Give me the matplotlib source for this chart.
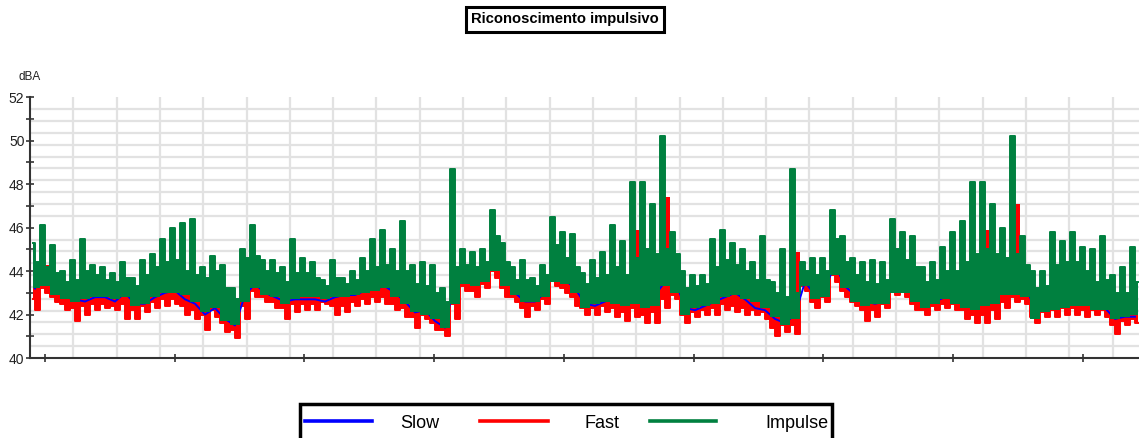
import numpy as np
import matplotlib
matplotlib.use("Agg")
import matplotlib.pyplot as plt
from matplotlib.lines import Line2D
from matplotlib.patches import Rectangle
from matplotlib.ticker import FixedLocator, FuncFormatter

plt.rcParams['font.family'] = ['Liberation Sans', 'DejaVu Sans']

# ---- data (dBA), read per time bin (min/max decimation of the dense trace) ----
# Impulse: spike maximum, secondary maximum, minimum of each bin
impulse_peak = [45.3, 46.1, 45.2, 44.0, 44.5, 45.5, 44.3, 44.2, 43.9, 44.4,
                43.7, 44.5, 44.8, 45.5, 46.0, 46.2, 46.4, 44.2, 44.7, 44.3,
                43.2, 45.0, 46.1, 44.5, 44.5, 44.2, 45.5, 44.6, 44.4, 43.6,
                44.5, 43.7, 44.0, 44.6, 45.5, 45.9, 45.0, 46.3, 44.3, 44.4,
                44.3, 43.2, 48.7, 45.0, 44.9, 45.0, 46.8, 45.3, 44.2, 44.5,
                43.7, 44.3, 46.5, 45.8, 45.7, 43.9, 44.5, 44.9, 46.1, 45.4,
                48.1, 48.1, 47.1, 50.2, 45.8, 44.0, 43.8, 43.8, 45.5, 45.9,
                45.3, 45.0, 44.4, 45.6, 43.5, 45.0, 48.7, 44.4, 44.6, 44.6,
                46.8, 45.6, 44.6, 44.4, 44.5, 44.4, 46.4, 45.8, 45.6, 44.2,
                44.4, 45.1, 45.8, 46.3, 48.1, 48.1, 47.1, 46.0, 50.2, 45.6,
                44.0, 44.0, 45.8, 45.4, 45.8, 45.1, 45.0, 45.6, 43.8, 44.2,
                45.1]
impulse_second = [44.4, 44.2, 43.9, 43.5, 43.6, 44.0, 43.8, 43.6, 43.5, 43.7,
                  43.3, 43.8, 44.2, 44.4, 44.5, 44.0, 43.8, 43.7, 44.0, 43.2,
                  42.7, 44.6, 44.7, 44.0, 43.9, 43.5, 43.9, 43.9, 43.7, 43.3,
                  43.7, 43.4, 43.6, 44.0, 44.2, 44.3, 44.0, 44.0, 43.4, 43.3,
                  43.0, 42.6, 44.2, 44.3, 44.2, 44.4, 45.6, 44.4, 43.6, 43.6,
                  43.3, 43.8, 45.2, 44.6, 44.2, 43.4, 43.7, 43.8, 44.2, 43.8,
                  44.6, 45.0, 44.8, 45.0, 44.8, 43.2, 43.3, 43.4, 44.2, 44.5,
                  44.3, 44.0, 43.6, 43.6, 43.0, 42.8, 43.0, 44.0, 43.8, 44.0,
                  45.5, 44.4, 43.8, 43.5, 43.4, 43.6, 45.0, 44.5, 44.2, 43.5,
                  43.6, 44.0, 44.0, 44.4, 44.8, 45.0, 44.8, 44.6, 44.8, 44.3,
                  43.2, 43.3, 44.3, 44.4, 44.4, 44.0, 43.5, 43.6, 43.0, 43.0,
                  43.5]
impulse_floor = [43.2, 43.3, 42.9, 42.7, 42.6, 42.7, 42.8, 42.8, 42.7, 42.8,
                 42.4, 42.5, 42.8, 43.0, 43.0, 42.9, 42.6, 42.1, 42.3, 41.7,
                 41.5, 42.6, 43.2, 42.9, 42.8, 42.5, 42.7, 42.8, 42.8, 42.7,
                 42.8, 42.8, 42.9, 43.0, 43.1, 43.2, 42.8, 42.5, 42.1, 42.0,
                 41.8, 41.4, 42.5, 43.4, 43.3, 43.5, 44.0, 43.3, 42.9, 42.6,
                 42.6, 42.8, 43.5, 43.4, 43.0, 42.3, 42.5, 42.6, 42.5, 42.4,
                 42.5, 42.3, 42.4, 43.3, 43.0, 42.0, 42.3, 42.4, 42.5, 42.8,
                 42.9, 42.7, 42.6, 42.3, 41.9, 41.5, 41.8, 43.3, 42.7, 42.8,
                 43.8, 43.2, 42.6, 42.4, 42.5, 42.5, 43.0, 43.0, 42.6, 42.3,
                 42.5, 42.7, 42.5, 42.3, 42.2, 42.4, 42.5, 42.9, 42.9, 42.8,
                 41.8, 42.1, 42.2, 42.3, 42.4, 42.4, 42.2, 42.2, 41.8, 41.9,
                 42.0]
# Fast: maximum, secondary minimum, minimum of each bin
fast_peak = [44.3, 44.3, 43.5, 43.0, 42.9, 43.0, 43.0, 43.0, 42.9, 43.3,
             42.8, 42.9, 43.2, 43.4, 44.0, 43.4, 43.4, 43.0, 43.3, 42.6,
             42.1, 44.2, 43.9, 43.5, 43.2, 43.1, 43.3, 43.2, 43.1, 43.0,
             43.3, 43.0, 43.1, 43.4, 43.6, 44.0, 43.8, 43.5, 42.8, 42.9,
             42.5, 42.2, 43.6, 43.8, 43.7, 44.0, 45.2, 44.2, 43.4, 43.0,
             43.0, 43.4, 45.0, 44.0, 43.8, 43.0, 43.0, 43.3, 44.2, 43.4,
             45.9, 44.5, 44.8, 47.4, 43.8, 43.0, 42.6, 42.9, 43.3, 43.4,
             43.6, 43.6, 42.9, 43.0, 42.4, 42.4, 44.9, 43.8, 43.3, 43.4,
             44.8, 44.0, 43.3, 43.1, 43.0, 43.1, 44.5, 43.8, 43.3, 42.8,
             43.0, 43.3, 43.5, 44.1, 44.6, 45.9, 44.0, 44.0, 47.1, 44.0,
             42.8, 42.7, 43.0, 43.3, 43.5, 43.3, 42.9, 43.2, 42.5, 42.4,
             42.6]
fast_second = [42.7, 43.2, 42.8, 42.5, 42.3, 42.4, 42.5, 42.5, 42.4, 42.5,
               42.2, 42.4, 42.6, 42.7, 42.7, 42.4, 42.2, 42.0, 42.2, 41.6,
               41.3, 42.4, 43.1, 42.8, 42.6, 42.3, 42.5, 42.5, 42.5, 42.6,
               42.4, 42.4, 42.6, 42.7, 42.8, 42.8, 42.5, 42.3, 41.9, 42.0,
               41.6, 41.3, 42.5, 43.3, 43.1, 43.4, 44.0, 43.2, 42.8, 42.3,
               42.4, 42.7, 43.6, 43.2, 42.8, 42.3, 42.3, 42.4, 42.3, 42.1,
               42.3, 42.0, 42.1, 42.7, 42.9, 42.0, 42.1, 42.2, 42.3, 42.5,
               42.4, 42.3, 42.2, 42.1, 41.4, 41.5, 41.5, 43.3, 42.6, 42.8,
               43.8, 43.1, 42.6, 42.2, 42.2, 42.5, 43.2, 43.1, 42.5, 42.2,
               42.4, 42.5, 42.5, 42.2, 42.0, 42.0, 42.2, 42.6, 42.8, 42.7,
               41.9, 42.1, 42.2, 42.3, 42.3, 42.2, 42.2, 42.2, 41.5, 41.7,
               41.8]
fast_floor = [42.2, 43.0, 42.6, 42.2, 41.7, 42.0, 42.2, 42.3, 42.2, 41.8,
              41.8, 42.1, 42.3, 42.4, 42.5, 42.0, 41.8, 41.3, 41.9, 41.2,
              40.9, 41.8, 42.8, 42.6, 42.3, 41.8, 42.1, 42.2, 42.2, 42.5,
              42.0, 42.1, 42.4, 42.5, 42.6, 42.5, 42.2, 41.9, 41.4, 41.8,
              41.3, 41.0, 41.8, 43.1, 42.8, 43.2, 43.7, 42.8, 42.6, 41.9,
              42.2, 42.5, 43.3, 43.0, 42.4, 42.0, 42.0, 42.1, 41.9, 41.7,
              41.9, 41.6, 41.6, 42.3, 42.7, 41.6, 41.9, 42.0, 42.0, 42.2,
              42.1, 42.0, 42.0, 41.8, 41.0, 41.2, 41.1, 43.1, 42.3, 42.6,
              43.5, 42.8, 42.4, 41.7, 41.9, 42.3, 42.9, 42.8, 42.2, 42.0,
              42.2, 42.3, 42.2, 41.8, 41.6, 41.6, 41.8, 42.3, 42.6, 42.5,
              41.6, 41.9, 41.9, 42.0, 42.0, 41.9, 42.0, 41.9, 41.1, 41.5,
              41.6]
slow = [43.2, 44.0, 43.2, 42.8, 42.7, 42.6, 42.8, 42.8, 42.6, 43.0,
        42.5, 42.5, 42.8, 43.0, 43.1, 42.7, 42.5, 42.0, 42.3, 41.8,
        41.5, 42.9, 43.4, 43.0, 42.8, 42.6, 42.7, 42.7, 42.7, 42.6,
        42.8, 42.9, 42.9, 43.1, 43.2, 43.3, 43.0, 42.6, 42.1, 42.2,
        41.7, 41.4, 43.6, 43.6, 43.4, 43.8, 44.5, 43.8, 43.0, 42.6,
        42.6, 43.0, 44.3, 43.6, 43.2, 42.5, 42.4, 42.6, 42.8, 42.5,
        42.6, 42.5, 42.9, 43.5, 43.6, 42.3, 42.2, 42.4, 42.6, 42.8,
        43.0, 42.7, 42.3, 42.2, 41.8, 41.6, 42.0, 43.5, 42.9, 43.2,
        44.3, 43.3, 42.9, 42.6, 42.5, 42.6, 43.8, 43.5, 42.8, 42.5,
        42.6, 42.8, 42.7, 42.6, 42.6, 42.6, 42.9, 43.2, 43.4, 43.4,
        42.2, 42.3, 42.5, 42.6, 42.7, 42.5, 42.4, 42.3, 41.8, 41.9,
        41.9]

legend_labels = ["Slow", "Fast", "Impulse"]
title_text = "Riconoscimento impulsivo"
unit_text = "dBA"

# ---- figure ----
W, H = 1139, 438
fig = plt.figure(figsize=(W / 100, H / 100), dpi=100)
fig.patch.set_facecolor("white")

ax_left, ax_right, ax_top, ax_bot = 30, 1139, 97.3, 358
ax = fig.add_axes([ax_left / W, 1 - ax_bot / H, (ax_right - ax_left) / W, (ax_bot - ax_top) / H])

nb = len(slow)
# half-bin resolution: each bin split into two half-bins
xh = (np.arange(2 * nb) + 0.5) * 0.5
imp_upper = np.column_stack([impulse_peak, impulse_second]).ravel()
imp_lower = np.repeat(impulse_floor, 2)
fast_upper = np.repeat(fast_peak, 2)
fast_lower = np.column_stack([fast_second, fast_floor]).ravel()
t1 = np.arange(nb) + 0.5

c_slow, c_fast, c_imp = "#0000ff", "#ff0000", "#00803f"

# Fast (min/max band + outline)
ax.fill_between(xh, fast_lower, fast_upper, step="mid", color=c_fast, lw=0, zorder=3)
ax.plot(xh, fast_lower, color=c_fast, lw=1.4, drawstyle="steps-mid", zorder=3)
# Slow
ax.plot(t1, slow, color=c_slow, lw=1.4, zorder=4)
# Impulse (min/max band + outline)
ax.fill_between(xh, imp_lower, imp_upper, step="mid", color=c_imp, lw=0, zorder=5)
ax.plot(xh, imp_upper, color=c_imp, lw=1.4, drawstyle="steps-mid", zorder=5)

xmax = (ax_right - ax_left) / 10.0
ax.set_xlim(0, xmax)
ax.set_ylim(40, 52)

# grid (minor) and ticks (major)
ax.xaxis.set_minor_locator(FixedLocator(np.arange(4.33, xmax, 4.33)))
ax.yaxis.set_minor_locator(FixedLocator(np.linspace(40, 52, 23)[1:-1]))
ax.grid(which="minor", color="#e2e2e2", lw=1.6, zorder=0)
ax.set_axisbelow(True)
ax.set_xticks(np.arange(1.5, xmax, 12.97))
ax.set_yticks(np.arange(40, 53, 1))
ax.xaxis.set_major_formatter(FuncFormatter(lambda v, p: ""))
ax.yaxis.set_major_formatter(FuncFormatter(lambda v, p: f"{int(round(v))}" if int(round(v)) % 2 == 0 else ""))
ax.tick_params(which="minor", length=0)
ax.tick_params(which="major", direction="inout", length=6, width=1.2, color="#333333",
               labelsize=10, labelcolor="#222222", pad=1)
for s in ("top", "right"):
    ax.spines[s].set_visible(False)
for s in ("left", "bottom"):
    ax.spines[s].set_color("#333333")
    ax.spines[s].set_linewidth(1.5)
    ax.spines[s].set_zorder(6)

fig.text(30 / W, 1 - 77 / H, unit_text, ha="center", va="center", fontsize=8.5, color="#222222")
fig.text(565 / W, 1 - 19.5 / H, title_text, ha="center", va="center", fontsize=10.6,
         fontweight="bold", color="black",
         bbox=dict(boxstyle="square,pad=0.35", fc="white", ec="black", lw=2.2))

# legend (framed box below the plot, clipped by the figure edge)
fig.patches.append(Rectangle((300 / W, 1 - 445 / H), 532 / W, (445 - 404) / H,
                             transform=fig.transFigure, fc="white", ec="black", lw=2.5))
ly = 1 - 421 / H
for (x0, x1, tx), col, lab in zip([(305, 372, 400), (480, 548, 585), (650, 716, 765)],
                                  [c_slow, c_fast, c_imp], legend_labels):
    fig.add_artist(Line2D([x0 / W, x1 / W], [ly, ly], color=col, lw=2.6, transform=fig.transFigure))
    fig.text(tx / W, 1 - 423 / H, lab, ha="left", va="center", fontsize=13, color="black")

fig.savefig("out.png", dpi=100)
